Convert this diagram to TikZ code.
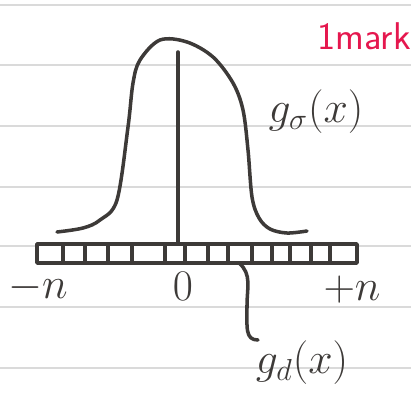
\documentclass[tikz,border=0pt]{standalone}
\usepackage{amsmath}
\usetikzlibrary{positioning}
\definecolor{ink}{HTML}{3D3A38}
\definecolor{paperrule}{HTML}{DADADA}
\definecolor{marker}{HTML}{E5174E}

\begin{document}
\begin{tikzpicture}[x=0.02cm, y=-0.02cm,
  pen/.style={draw=ink, line width=2pt, line cap=round, line join=round},
  ruled/.style={draw=paperrule, line width=0.9pt},
  lbl/.style={text=ink, font=\fontsize{24}{28}\selectfont, inner sep=1pt},
  marklbl/.style={text=marker, font=\sffamily\fontsize{22}{26}\selectfont, inner sep=1pt}
]
  \useasboundingbox (0,0) rectangle (411,399);
  % ruled paper
  \foreach \y in {5,65,126,187,246,307,368}
    \draw[ruled] (0,\y) -- (411,\y);

  % bar of samples
  \draw[pen, fill=white] (37,244) rectangle (357,263);
  \foreach \x in {63,85,108,132,165,185,208,228,252,272,290,311,330}
    \draw[pen] (\x,244) -- (\x,263);
  \coordinate (tap) at (239,263);

  % axis at zero
  \draw[pen] (178,52) -- (178,244);

  % the gaussian
  \draw[pen] plot[smooth, tension=0.55] coordinates {(57,232) (83,228) (100,220)
    (117,200) (128,127) (133,83) (140,60) (160,40) (187,42) (213,57) (233,83)
    (243,110) (248,150) (252,197) (259,218) (270,229) (287,233) (307,231)};

  % labels
  \node[lbl] (gsig) at (316,112) {$g_\sigma(x)$};
  \node[lbl] (gd) at (302,363) {$g_d(x)$};
  \node[lbl] (minus) at (38,288) {$-n$};
  \node[lbl] (zero) at (183,286) {$0$};
  \node[lbl] (plus) at (352,290) {$+n$};
  \node[marklbl] (mark) at (364,36) {1mark};

  \coordinate (gdtail) at (258,340);
  \draw[pen] (tap) .. controls (252,274) and (247,288) .. (247,305)
    .. controls (247,328) and (245,340) .. (gdtail);
\end{tikzpicture}
\end{document}
